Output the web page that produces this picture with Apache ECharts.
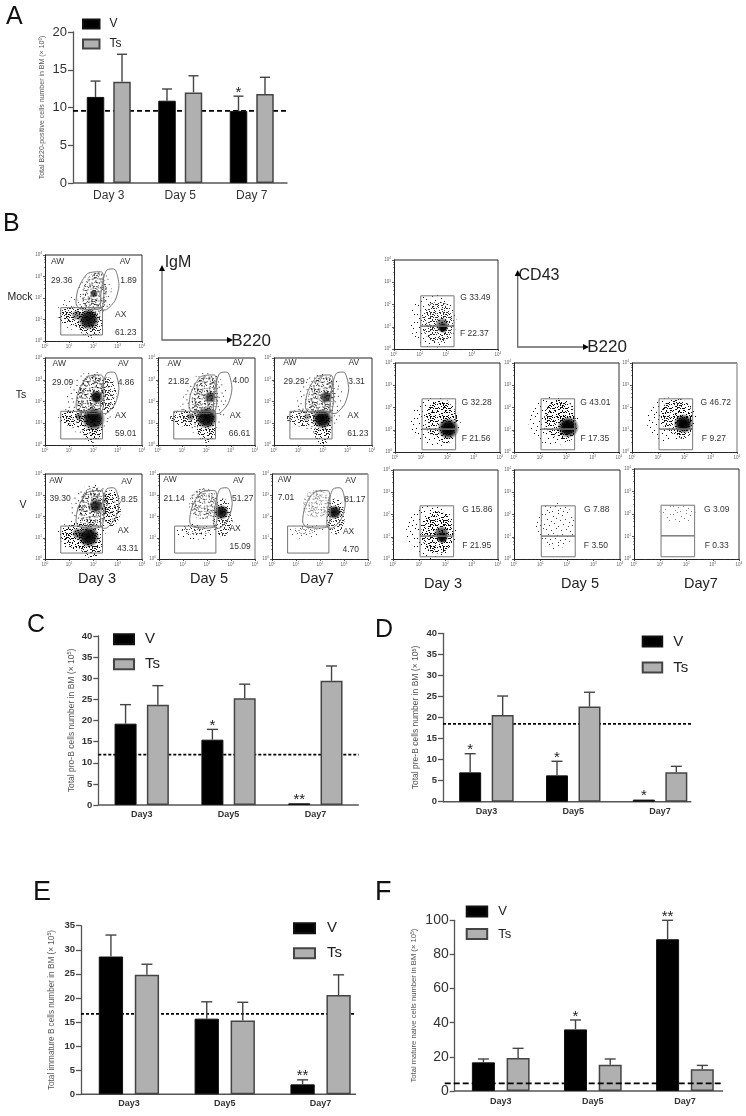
<!DOCTYPE html>
<html><head><meta charset="utf-8">
<style>html,body{margin:0;padding:0;background:#fff}#c{width:746px;height:1116px;filter:blur(0.3px)}</style>
<script src="https://cdn.jsdelivr.net/npm/echarts@6/dist/echarts.min.js"></script>
</head><body><div id="c"></div>
<script>
// ---------- bar chart values ----------
const catA = ['Day 3','Day 5','Day 7'];
const catB = ['Day3','Day5','Day7'];
const seriesNames = ['V','Ts'];

const aV = [11.4,10.9,9.55],  aTs = [13.4,12.0,11.8];
const aVErr = [13.5,12.45,11.5], aTsErr = [17.05,14.2,14.0];
const aStars = ['','','*'], aRef = 9.55;

const cV = [19.25,15.46,0.4], cTs = [23.75,25.25,29.4];
const cVErr = [23.75,17.9,null], cTsErr = [28.25,28.6,32.9];
const cStars = ['','*','**'], cRef = 11.9;

const dV = [6.97,6.26,0.5], dTs = [20.6,22.6,7.0];
const dVErr = [11.4,9.6,null], dTsErr = [25.1,26.0,8.4];
const dStars = ['*','*','*'], dRef = 18.5;

const eV = [28.6,15.7,2.07], eTs = [24.8,15.3,20.6];
const eVErr = [33.06,19.2,3.0], eTsErr = [27.0,19.1,24.8];
const eStars = ['','','**'], eRef = 16.7;

const fV = [16.8,36.1,88.9], fTs = [19.3,15.4,12.7];
const fVErr = [18.75,41.6,100], fTsErr = [25,18.75,15];
const fStars = ['','*','**'], fRef = 4.5;

// ---------- flow cytometry: percentages ----------
const igmMock = ['29.36','1.89','61.23'];
const igmTs3 = ['29.09','4.86','59.01'], igmTs5 = ['21.82','4.00','66.61'], igmTs7 = ['29.29','3.31','61.23'];
const igmV3 = ['39.30','8.25','43.31'], igmV5 = ['21.14','51.27','15.09'], igmV7 = ['7.01','81.17','4.70'];
const cdMock = ['33.49','22.37'];
const cdTs3 = ['32.28','21.56'], cdTs5 = ['43.01','17.35'], cdTs7 = ['46.72','9.27'];
const cdV3 = ['15.86','21.95'], cdV5 = ['7.88','3.50'], cdV7 = ['3.09','0.33'];

// gates, log10 units
const gateAW = [[1.28,1.74],[1.37,2.43],[1.75,3.13],[2.34,3.21],[2.41,2.98],[2.34,1.55],[1.44,1.5]];
const gateAV = [[2.54,3.29],[2.89,3.32],[3.05,2.59],[2.89,1.89],[2.54,1.46],[2.3,1.5],[2.34,2.5]];
const gateAX = [[0.65,0.28],[2.37,0.28],[2.37,1.55],[0.65,1.55]];
const gateG  = [[1.03,1.03],[2.31,1.03],[2.31,2.39],[1.03,2.39]];
const gateF  = [[1.03,0.1],[2.31,0.1],[2.31,1.03],[1.03,1.03]];

// estimated dot clouds: log x, log y, spread x, spread y (decades), rotation, strength, kind (s sparse dots, d dense dots, g solid core)
const cloudIgmMock = [[1.5,1.3,1.0,.85,0,.7,'s'],[2.05,2.1,.7,1.2,-8,.8,'s'],[2.05,2.15,.5,1.05,-6,.7,'d'],[2.02,2.2,.17,.95,-5,.75,'g'],[1.35,1.15,.8,.45,0,.9,'d'],[1.9,.75,.5,.6,0,.85,'d'],[1.3,1.2,.6,.25,0,.5,'g'],[1.8,1.0,.45,.5,0,.95,'g']];
const cloudIgmTs3 = [[1.85,1.9,1.0,1.5,-12,.9,'s'],[1.9,2.25,.55,1.05,-10,.9,'d'],[2.6,2.3,.35,.8,0,.8,'d'],[2.13,2.2,.28,1.0,-9,.95,'g'],[1.3,1.25,.75,.42,0,.9,'d'],[1.95,.85,.42,.75,0,.95,'d'],[1.4,1.3,.55,.2,0,.55,'g'],[2.0,1.2,.5,.55,0,1,'g']];
const cloudIgmTs5 = [[1.9,1.9,.95,1.45,-12,.85,'s'],[1.95,2.2,.55,1.0,-10,.8,'d'],[2.15,2.2,.26,.85,-9,.7,'g'],[1.3,1.25,.8,.42,0,.85,'d'],[2.0,.85,.4,.75,0,.9,'d'],[1.35,1.3,.6,.2,0,.5,'g'],[2.0,1.25,.48,.52,0,1,'g']];
const cloudIgmTs7 = [[1.85,1.9,.95,1.45,-12,.85,'s'],[1.95,2.2,.55,1.0,-10,.8,'d'],[2.12,2.2,.26,.9,-9,.75,'g'],[1.3,1.25,.8,.42,0,.8,'d'],[1.98,.8,.35,.8,0,.9,'d'],[1.35,1.3,.6,.18,0,.4,'g'],[1.98,1.2,.42,.62,0,1,'g']];
const cloudIgmV3 = [[2.0,2.4,.95,1.1,-10,.95,'s'],[1.5,1.1,1.0,.75,0,.95,'s'],[2.0,2.45,.6,.95,-8,.9,'d'],[2.75,2.4,.38,.85,0,.9,'d'],[1.4,1.1,.8,.6,0,.95,'d'],[1.9,.7,.45,.65,0,.9,'d'],[2.1,2.5,.3,.75,-8,.85,'g'],[1.35,1.2,.65,.28,0,.6,'g'],[1.8,1.05,.45,.6,0,1,'g']];
const cloudIgmV5 = [[1.85,2.6,.6,.75,-20,.7,'d'],[1.5,1.3,.85,.38,0,.9,'s'],[1.55,1.35,.6,.22,0,.6,'d'],[2.65,1.95,.42,.9,0,.8,'d'],[2.6,2.2,.32,.6,-8,.95,'g']];
const cloudIgmV7 = [[1.85,2.6,.55,.7,-20,.45,'d'],[1.4,1.3,.8,.35,0,.7,'s'],[1.4,1.35,.5,.18,0,.4,'d'],[2.65,2.0,.38,.85,0,.8,'d'],[2.6,2.2,.3,.55,-8,.95,'g']];
const cloudCdMock = [[1.5,1.25,.9,1.2,0,.9,'s'],[1.7,1.2,.62,.92,0,.8,'d'],[1.85,1.1,.28,.6,0,.6,'g'],[1.88,.95,.2,.38,0,1,'g']];
const cloudCdTs3 = [[1.55,1.35,.95,1.1,0,1,'s'],[1.75,1.45,.62,.85,0,.95,'d'],[1.95,1.1,.35,.72,0,.9,'d'],[2.03,1.05,.42,.55,0,1,'g'],[2.03,1.05,.25,.3,0,1,'g']];
const cloudCdTs5 = [[1.5,1.4,.95,1.1,0,1,'s'],[1.75,1.5,.6,.85,0,.95,'d'],[2.0,1.15,.35,.72,0,.9,'d'],[2.06,1.12,.42,.55,0,1,'g'],[2.06,1.12,.25,.3,0,1,'g']];
const cloudCdTs7 = [[1.5,1.45,.95,1.0,0,1,'s'],[1.7,1.6,.6,.8,0,.9,'d'],[1.95,1.3,.35,.72,0,.9,'d'],[1.96,1.27,.38,.55,0,1,'g'],[1.96,1.25,.2,.3,0,1,'g']];
const cloudCdV3 = [[1.45,1.2,.95,1.2,0,1,'s'],[1.7,1.2,.62,.95,0,.95,'d'],[1.85,1.15,.3,.65,0,.7,'g'],[1.88,.95,.22,.42,0,1,'g']];
const cloudCdV5 = [[1.55,1.5,.75,1.05,0,.75,'s']];
const cloudCdV7 = [[1.65,2.0,.7,.42,0,.5,'s']];

// ---------- layout ----------
const barPanels = [
 {v:aV,t:aTs,ve:aVErr,te:aTsErr,stars:aStars,ref:aRef,cats:catA,max:20,step:5,l:73,tp:32,w:214.5,h:151,bw:17.5,gap:9,cap:5,
  name:'Total B220-positive cells number in BM (× 10{s|6})',nameFs:7,nameGap:26,tickFs:13,tickW:'normal',catFs:12,catW:'normal',catMargin:7,
  leg:{left:82,top:18,w:16.5,h:9,gap:8,fs:12,pad:5},refW:1.8,refDash:[5,3],refZ:1},
 {v:cV,t:cTs,ve:cVErr,te:cTsErr,stars:cStars,ref:cRef,cats:catB,max:40,step:5,l:98.3,tp:636,w:260.5,h:169,bw:22,gap:10.3,cap:5.5,
  name:'Total pro-B cells number in BM (× 10{s|5})',nameFs:8.5,nameGap:22,tickFs:9.5,tickW:'bold',catFs:9,catW:'bold',catMargin:5,
  leg:{left:113,top:631.7,w:20,h:10,gap:10,fs:15,pad:6},refW:1.8,refDash:[3,2],refZ:1},
 {v:dV,t:dTs,ve:dVErr,te:dTsErr,stars:dStars,ref:dRef,cats:catB,max:40,step:5,l:443,tp:633.3,w:260.5,h:168.4,bw:22,gap:10.5,cap:5.5,xEnd:691.3,
  name:'Total pre-B cells number in BM (× 10{s|5})',nameFs:8.5,nameGap:22,tickFs:9.5,tickW:'bold',catFs:9,catW:'bold',catMargin:5,
  leg:{left:641.7,top:634,w:19.5,h:10,gap:11,fs:15,pad:6},refW:1.8,refDash:[3,2],refZ:1},
 {v:eV,t:eTs,ve:eVErr,te:eTsErr,stars:eStars,ref:eRef,cats:catB,max:35,step:5,l:81,tp:925.7,w:287.5,h:168.6,bw:24.3,gap:11.7,cap:5.5,xEnd:356,
  name:'Total immature B cells number in BM (× 10{s|5})',nameFs:8.2,nameGap:25,tickFs:9.5,tickW:'bold',catFs:9,catW:'bold',catMargin:5,
  leg:{left:293,top:920.7,w:21,h:10,gap:10,fs:15,pad:7},refW:1.8,refDash:[3,2],refZ:1},
 {v:fV,t:fTs,ve:fVErr,te:fTsErr,stars:fStars,ref:fRef,cats:catB,max:100,step:20,l:454.7,tp:920.3,w:276.3,h:170.7,bw:23,gap:11.7,cap:5.5,xEnd:723,xStart:444.7,
  name:'Total mature naive cells number in BM (× 10{s|5})',nameFs:7.6,nameGap:36,tickFs:14,tickW:'normal',catFs:9,catW:'bold',catMargin:6,
  leg:{left:465.7,top:905,w:20.5,h:10,gap:9.5,fs:13,pad:6},refW:1.8,refDash:[6,3],refZ:5}
];

const igmLabels = (p,pos)=>[['AW',pos[0]],[p[0],pos[1]],['AV',pos[2]],[p[1],pos[3]],['AX',pos[4]],[p[2],pos[5]]];
const cdLabels = (p,pos)=>[['G '+p[0],pos[0]],['F '+p[1],pos[1]]];
const igmGates=[{pts:gateAW,smooth:.25},{pts:gateAV,smooth:.25},{pts:gateAX}];
const cdGates=[{pts:gateG},{pts:gateF}];
const G='#9a9a9a';
const flowPanels = [
 {l:45,tp:255,w:97,h:86,c:cloudIgmMock,g:igmGates,t:igmLabels(igmMock,[[.52,3.67],[.69,2.82],[3.3,3.67],[3.44,2.82],[3.12,1.24],[3.33,.39]])},
 {l:45,tp:358,w:97,h:87,c:cloudIgmTs3,g:igmGates,t:igmLabels(igmTs3,[[.59,3.72],[.73,2.88],[3.23,3.72],[3.34,2.88],[3.12,1.34],[3.33,.5]])},
 {l:158,tp:358,w:97,h:87,c:cloudIgmTs5,g:igmGates,t:igmLabels(igmTs5,[[.67,3.74],[.85,2.9],[3.3,3.77],[3.41,2.94],[3.19,1.34],[3.36,.5]])},
 {l:274,tp:358,w:98,h:87,c:cloudIgmTs7,g:igmGates,t:igmLabels(igmTs7,[[.65,3.77],[.82,2.92],[3.26,3.77],[3.37,2.92],[3.23,1.34],[3.42,.5]])},
 {l:45,tp:474,w:97,h:85,c:cloudIgmV3,g:igmGates,t:igmLabels(igmV3,[[.45,3.69],[.62,2.86],[3.37,3.64],[3.48,2.81],[3.23,1.33],[3.41,.48]])},
 {l:159,tp:474,w:96,h:85,rc:G,c:cloudIgmV5,g:igmGates,t:igmLabels(igmV5,[[.46,3.72],[.63,2.84],[3.31,3.69],[3.49,2.86],[3.17,1.42],[3.38,.59]])},
 {l:272,tp:474,w:96,h:85,rc:G,c:cloudIgmV7,g:igmGates,t:igmLabels(igmV7,[[.52,3.75],[.58,2.91],[3.28,3.69],[3.45,2.81],[3.19,1.28],[3.28,.44]])},
 {l:394,tp:260,w:104,h:89,c:cloudCdMock,g:cdGates,t:cdLabels(cdMock,[[3.13,2.31],[3.09,.69]])},
 {l:395,tp:363,w:105,h:89,c:cloudCdTs3,g:cdGates,t:cdLabels(cdTs3,[[3.11,2.22],[3.09,.6]])},
 {l:514,tp:363,w:105,h:89,c:cloudCdTs5,g:cdGates,t:cdLabels(cdTs5,[[3.1,2.22],[3.08,.6]])},
 {l:632,tp:363,w:105,h:89,rc:G,c:cloudCdTs7,g:cdGates,t:cdLabels(cdTs7,[[3.19,2.22],[3.12,.6]])},
 {l:393,tp:470,w:105,h:89,c:cloudCdV3,g:cdGates,t:cdLabels(cdV3,[[3.21,2.21],[3.19,.6]])},
 {l:514,tp:470,w:106,h:89,c:cloudCdV5,g:cdGates,t:cdLabels(cdV5,[[3.12,2.21],[3.09,.6]])},
 {l:634,tp:469,w:105,h:90,c:cloudCdV7,g:cdGates,t:cdLabels(cdV7,[[3.15,2.21],[3.15,.6]])}
];

// dot tiles for the speckled clouds
const tileDots=[[1,2],[5,0],[9,4],[14,1],[18,3],[23,0],[27,5],[30,2],[3,7],[7,9],[12,6],[16,8],[21,7],[25,10],[29,8],[0,12],[5,13],[10,11],[14,14],[19,12],[24,14],[28,13],[2,17],[7,18],[12,16],[17,18],[22,17],[26,19],[31,16],[4,22],[9,21],[13,23],[18,22],[23,24],[28,22],[1,26],[6,27],[11,26],[16,28],[21,27],[25,29],[30,26],[3,30],[8,31],[14,30],[19,31]];
const mkTile=n=>{const c=document.createElement('canvas');c.width=c.height=n;const x=c.getContext('2d');x.fillStyle='#000';tileDots.forEach(d=>x.fillRect(d[0]%n,d[1]%n,1,1));return {image:c,repeat:'repeat'};};
const tileSparse=mkTile(32),tileDense=mkTile(13);

const grid=[],xAxis=[],yAxis=[],series=[],legend=[];
const INK='#333',AX='#555';

barPanels.forEach(p=>{
  const gi=grid.length;
  grid.push({left:p.l,top:p.tp,width:p.w,height:p.h});
  xAxis.push({type:'category',gridIndex:gi,data:p.cats,
    axisLine:{show:false},axisTick:{alignWithLabel:true,length:4,lineStyle:{color:AX,width:1.3}},
    axisLabel:{fontFamily:'Liberation Sans',fontSize:p.catFs,fontWeight:p.catW,color:INK,margin:p.catMargin,interval:0}});
  yAxis.push({type:'value',gridIndex:gi,min:0,max:p.max,interval:p.step,splitLine:{show:false},
    axisLine:{show:true,lineStyle:{color:AX,width:1.3}},axisTick:{show:true,length:5,lineStyle:{color:AX,width:1.3}},
    axisLabel:{fontFamily:'Liberation Sans',fontSize:p.tickFs,fontWeight:p.tickW,color:INK,margin:6},
    name:p.name,nameLocation:'middle',nameGap:p.nameGap,nameRotate:90,
    nameTextStyle:{fontFamily:'Liberation Sans',fontSize:p.nameFs,color:'#555',rich:{s:{fontSize:p.nameFs*.65,color:'#555',padding:[0,0,4,0]}}}});
  const common={type:'bar',xAxisIndex:gi,yAxisIndex:gi,barWidth:p.bw,barGap:(p.gap/p.bw*100)+'%',z:2,silent:true,animation:false};
  series.push(Object.assign({},common,{name:'V',data:p.v,itemStyle:{color:'#000',borderColor:'#111',borderWidth:1}}));
  series.push(Object.assign({},common,{name:'Ts',data:p.t,itemStyle:{color:'#b0b0b0',borderColor:'#444',borderWidth:1.5}}));
  const off=(p.bw+p.gap)/2;
  const err=[];
  p.v.forEach((v,i)=>err.push([i,v,p.ve[i],-1,p.stars[i]]));
  p.t.forEach((v,i)=>err.push([i,v,p.te[i],1,'']));
  series.push({type:'custom',xAxisIndex:gi,yAxisIndex:gi,z:3,silent:true,animation:false,
    data:err.map(e=>[e[0],e[1]]),
    renderItem:(pa,api)=>{
      const e=err[pa.dataIndex];
      const x=api.coord([e[0],e[1]])[0]+e[3]*off;
      const y0=api.coord([e[0],e[1]])[1];
      const ch=[];
      const st={stroke:'#444',lineWidth:1.4};
      let yt=y0;
      if(e[2]!=null){
        yt=api.coord([e[0],e[2]])[1];
        ch.push({type:'line',shape:{x1:x,y1:y0,x2:x,y2:yt},style:st});
        ch.push({type:'line',shape:{x1:x-p.cap,y1:yt,x2:x+p.cap,y2:yt},style:st});
      }
      if(e[4]) ch.push({type:'text',x:x,y:yt+4,style:{text:e[4],align:'center',verticalAlign:'bottom',fontFamily:'Liberation Sans',fontSize:15,fill:'#222'}});
      return {type:'group',children:ch};
    }});
  series.push({type:'custom',xAxisIndex:gi,yAxisIndex:gi,z:2,silent:true,animation:false,data:[[0,0]],
    renderItem:(pa,api)=>{
      const y=api.coord([0,0])[1];
      return {type:'line',shape:{x1:p.l,y1:y,x2:p.xEnd||p.l+p.w,y2:y},style:{stroke:AX,lineWidth:1.4}};
    }});
  series.push({type:'custom',xAxisIndex:gi,yAxisIndex:gi,z:p.refZ,silent:true,animation:false,data:[[0,p.ref]],
    renderItem:(pa,api)=>{
      const y=api.coord([0,p.ref])[1];
      return {type:'line',shape:{x1:p.xStart||p.l,y1:y,x2:p.xEnd||p.l+p.w,y2:y},style:{stroke:'#000',lineWidth:p.refW,lineDash:p.refDash}};
    }});
  legend.push({data:seriesNames,orient:'vertical',left:p.leg.left,top:p.leg.top,padding:0,itemWidth:p.leg.w,itemHeight:p.leg.h,itemGap:p.leg.gap,icon:'rect',
    selectedMode:false,textStyle:{fontFamily:'Liberation Sans',fontSize:p.leg.fs,color:'#222',padding:[0,0,0,p.leg.pad]}});
});

const supLabel=v=>'{a|10}{b|'+Math.round(Math.log10(v))+'}';
flowPanels.forEach(p=>{
  const gi=grid.length;
  const pxX=p.w/4,pxY=p.h/4;
  grid.push({left:p.l,top:p.tp,width:p.w,height:p.h});
  const mk=()=>({type:'log',logBase:10,gridIndex:gi,min:1,max:10000,splitLine:{show:false},minorSplitLine:{show:false},
    axisLine:{show:true,lineStyle:{color:'#222',width:1}},
    axisTick:{show:true,length:2,lineStyle:{color:'#333',width:.8}},
    minorTick:{show:true,splitNumber:5,length:1,lineStyle:{color:'#444',width:.6}},
    axisLabel:{formatter:supLabel,margin:3,color:'#666',showMinLabel:true,showMaxLabel:true,hideOverlap:false,
      rich:{a:{fontSize:4.5,color:'#666',fontFamily:'Liberation Sans'},b:{fontSize:3.2,color:'#666',fontFamily:'Liberation Sans',padding:[0,0,3,0]}}}});
  xAxis.push(mk());yAxis.push(mk());
  series.push({type:'custom',xAxisIndex:gi,yAxisIndex:gi,z:2,clip:true,silent:true,animation:false,
    data:p.c.map(b=>[Math.pow(10,b[0]),Math.pow(10,b[1])]),
    renderItem:(pa,api)=>{
      const b=p.c[pa.dataIndex];
      const c=api.coord([Math.pow(10,b[0]),Math.pow(10,b[1])]);
      const rx=b[2]*pxX,ry=b[3]*pxY,kind=b[6];
      const fill=kind==='s'?tileSparse:kind==='d'?tileDense:{type:'radial',x:.5,y:.5,r:.5,colorStops:[{offset:0,color:'rgba(0,0,0,'+b[5]+')'},{offset:.6,color:'rgba(0,0,0,'+(b[5]*.85)+')'},{offset:1,color:'rgba(0,0,0,0)'}]};
      return {type:'ellipse',shape:{cx:c[0],cy:c[1],rx:rx,ry:ry},originX:c[0],originY:c[1],rotation:(b[4]||0)*Math.PI/180,
        style:{fill:fill,opacity:kind==='g'?1:b[5]}};
    }});
  series.push({type:'custom',xAxisIndex:gi,yAxisIndex:gi,z:3,silent:true,animation:false,data:[[10,10]],
    renderItem:(pa,api)=>{
      const P=q=>api.coord([Math.pow(10,q[0]),Math.pow(10,q[1])]);
      const ch=[];
      p.g.forEach(g=>ch.push({type:'polygon',shape:{points:g.pts.map(P),smooth:g.smooth||0},style:{fill:'none',stroke:'#777',lineWidth:1}}));
      const a=P([0,4]),b=P([4,4]),d=P([4,0]);
      ch.push({type:'line',shape:{x1:a[0],y1:a[1],x2:b[0],y2:b[1]},style:{stroke:'#222',lineWidth:1.2}});
      ch.push({type:'line',shape:{x1:b[0],y1:b[1],x2:d[0],y2:d[1]},style:{stroke:p.rc||'#333',lineWidth:p.rc?1.4:1}});
      p.t.forEach(t=>{const q=P(t[1]);ch.push({type:'text',x:q[0],y:q[1],style:{text:t[0],align:'center',verticalAlign:'middle',fontFamily:'Liberation Sans',fontSize:8.5,fill:'#333'}})});
      return {type:'group',children:ch};
    }});
});

// ---------- annotations ----------
const letter=(t,x,y,fs)=>({type:'text',x:x,y:y,style:{text:t,fontFamily:'Liberation Sans',fontSize:fs||25,fill:'#111',verticalAlign:'middle'}});
const txt=(t,x,y,fs)=>({type:'text',x:x,y:y,style:{text:t,fontFamily:'Liberation Sans',fontSize:fs,fill:'#222',align:'center',verticalAlign:'middle'}});
const arrows=(x,yb,yt,xr)=>[
  {type:'polyline',shape:{points:[[x,yt],[x,yb],[xr,yb]]},style:{stroke:'#666',lineWidth:1.3,fill:'none'}},
  {type:'polygon',shape:{points:[[x-3,yt+1],[x+3,yt+1],[x,yt-5]]},style:{fill:'#000'}},
  {type:'polygon',shape:{points:[[xr-1,yb-3],[xr-1,yb+3],[xr+5,yb]]},style:{fill:'#000'}}];
const graphic=[
  letter('A',6,17),letter('B',3,224),letter('C',27,625),letter('D',375,630),letter('E',33,893,27),letter('F',375,893,27),
  txt('Mock',20,297,10.5),txt('Ts',21,395,10.5),txt('V',23,505,10.5),
  txt('IgM',178,263,16),txt('B220',251,341,17),txt('CD43',539,276,16),txt('B220',607,347,17),
  txt('Day 3',97,579,14.5),txt('Day 5',209,579,14.5),txt('Day7',317,579,14.5),
  txt('Day 3',443,584,14.5),txt('Day 5',580,584,14.5),txt('Day7',701,584,14.5),
  ...arrows(162,340,270,228),...arrows(517.7,347,275,584)
];

const chart=echarts.init(document.getElementById('c'),null,{renderer:'canvas',width:746,height:1116});
chart.setOption({animation:false,backgroundColor:'#fff',grid,xAxis,yAxis,series,legend,graphic:{elements:graphic}});
</script></body></html>
